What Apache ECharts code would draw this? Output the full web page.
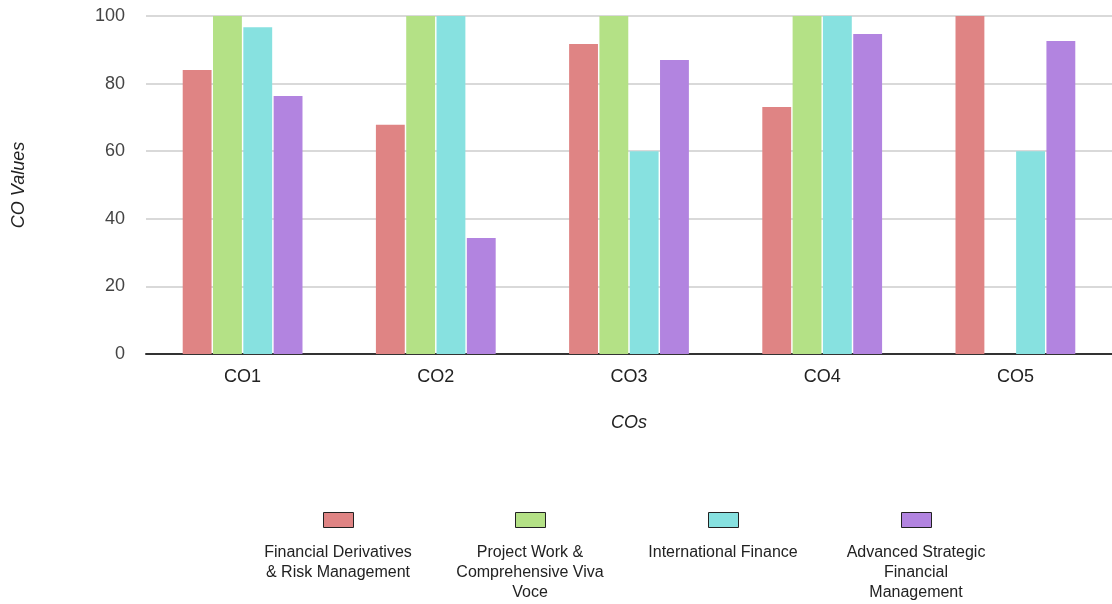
<!DOCTYPE html>
<html><head><meta charset="utf-8">
<script src="https://cdn.jsdelivr.net/npm/echarts@6/dist/echarts.min.js"></script>
<style>html,body{margin:0;padding:0;background:#fff}#c{width:1112px;height:604px}</style>
</head><body><div id="c"></div>
<script>
const categories = ['CO1','CO2','CO3','CO4','CO5'];
const seriesNames = ['Financial Derivatives & Risk Management','Project Work & Comprehensive Viva Voce','International Finance','Advanced Strategic Financial Management'];
const legendLabels = ['Financial Derivatives\n& Risk Management','Project Work &\nComprehensive Viva\nVoce','International Finance','Advanced Strategic\nFinancial\nManagement'];
const finDeriv = [84, 67.8, 91.7, 73.1, 100];
const projectWork = [100, 100, 100, 100, 0];
const intlFinance = [96.7, 100, 60, 100, 60];
const advStrategic = [76.3, 34.3, 87, 94.7, 92.6];
const yTicks = [0, 20, 40, 60, 80, 100];
const colors = ['#df8484','#b4e186','#87e1e0','#b284e0'];

const values = [finDeriv, projectWork, intlFinance, advStrategic];
const chart = echarts.init(document.getElementById('c'));
const legendX = [338, 530, 723, 916];
const font = 'Arial, "Liberation Sans", sans-serif';

chart.setOption({
  animation: false,
  color: colors,
  grid: {left: 146, right: 0, top: 16, bottom: 250},
  legend: seriesNames.map((n, i) => ({
    data: [n], left: legendX[i] - 15, top: 512, padding: 0, itemWidth: 30, itemHeight: 15,
    icon: 'rect', formatter: () => '', selectedMode: false,
    itemStyle: {borderColor: '#222', borderWidth: 1}
  })),
  graphic: legendLabels.map((t, i) => ({
    type: 'text', x: legendX[i], y: 543,
    style: {text: t, fill: '#222', font: '16px Arial, "Liberation Sans", sans-serif', textAlign: 'center', lineHeight: 20}
  })),
  xAxis: {
    type: 'category', data: categories,
    name: 'COs', nameLocation: 'middle', nameGap: 60,
    nameTextStyle: {fontStyle: 'italic', fontSize: 18, color: '#222', fontFamily: font},
    axisLine: {lineStyle: {color: '#333', width: 2}},
    axisTick: {show: false},
    axisLabel: {fontSize: 18, color: '#222', margin: 14, fontFamily: font}
  },
  yAxis: {
    type: 'value', min: 0, max: 100, interval: 20,
    name: 'CO Values', nameLocation: 'middle', nameGap: 118,
    nameTextStyle: {fontStyle: 'italic', fontSize: 18, color: '#222', fontFamily: font},
    axisLine: {show: false}, axisTick: {show: false},
    axisLabel: {fontSize: 18, color: '#444', margin: 21, fontFamily: font,
      formatter: v => yTicks.includes(v) ? String(v) : ''},
    splitLine: {lineStyle: {color: '#cccccc', width: 1.5}}
  },
  series: seriesNames.map((n, i) => ({
    name: n, type: 'bar', data: values[i],
    barGap: '5%', barCategoryGap: '38%',
    itemStyle: {color: colors[i]}
  }))
});
</script></body></html>
